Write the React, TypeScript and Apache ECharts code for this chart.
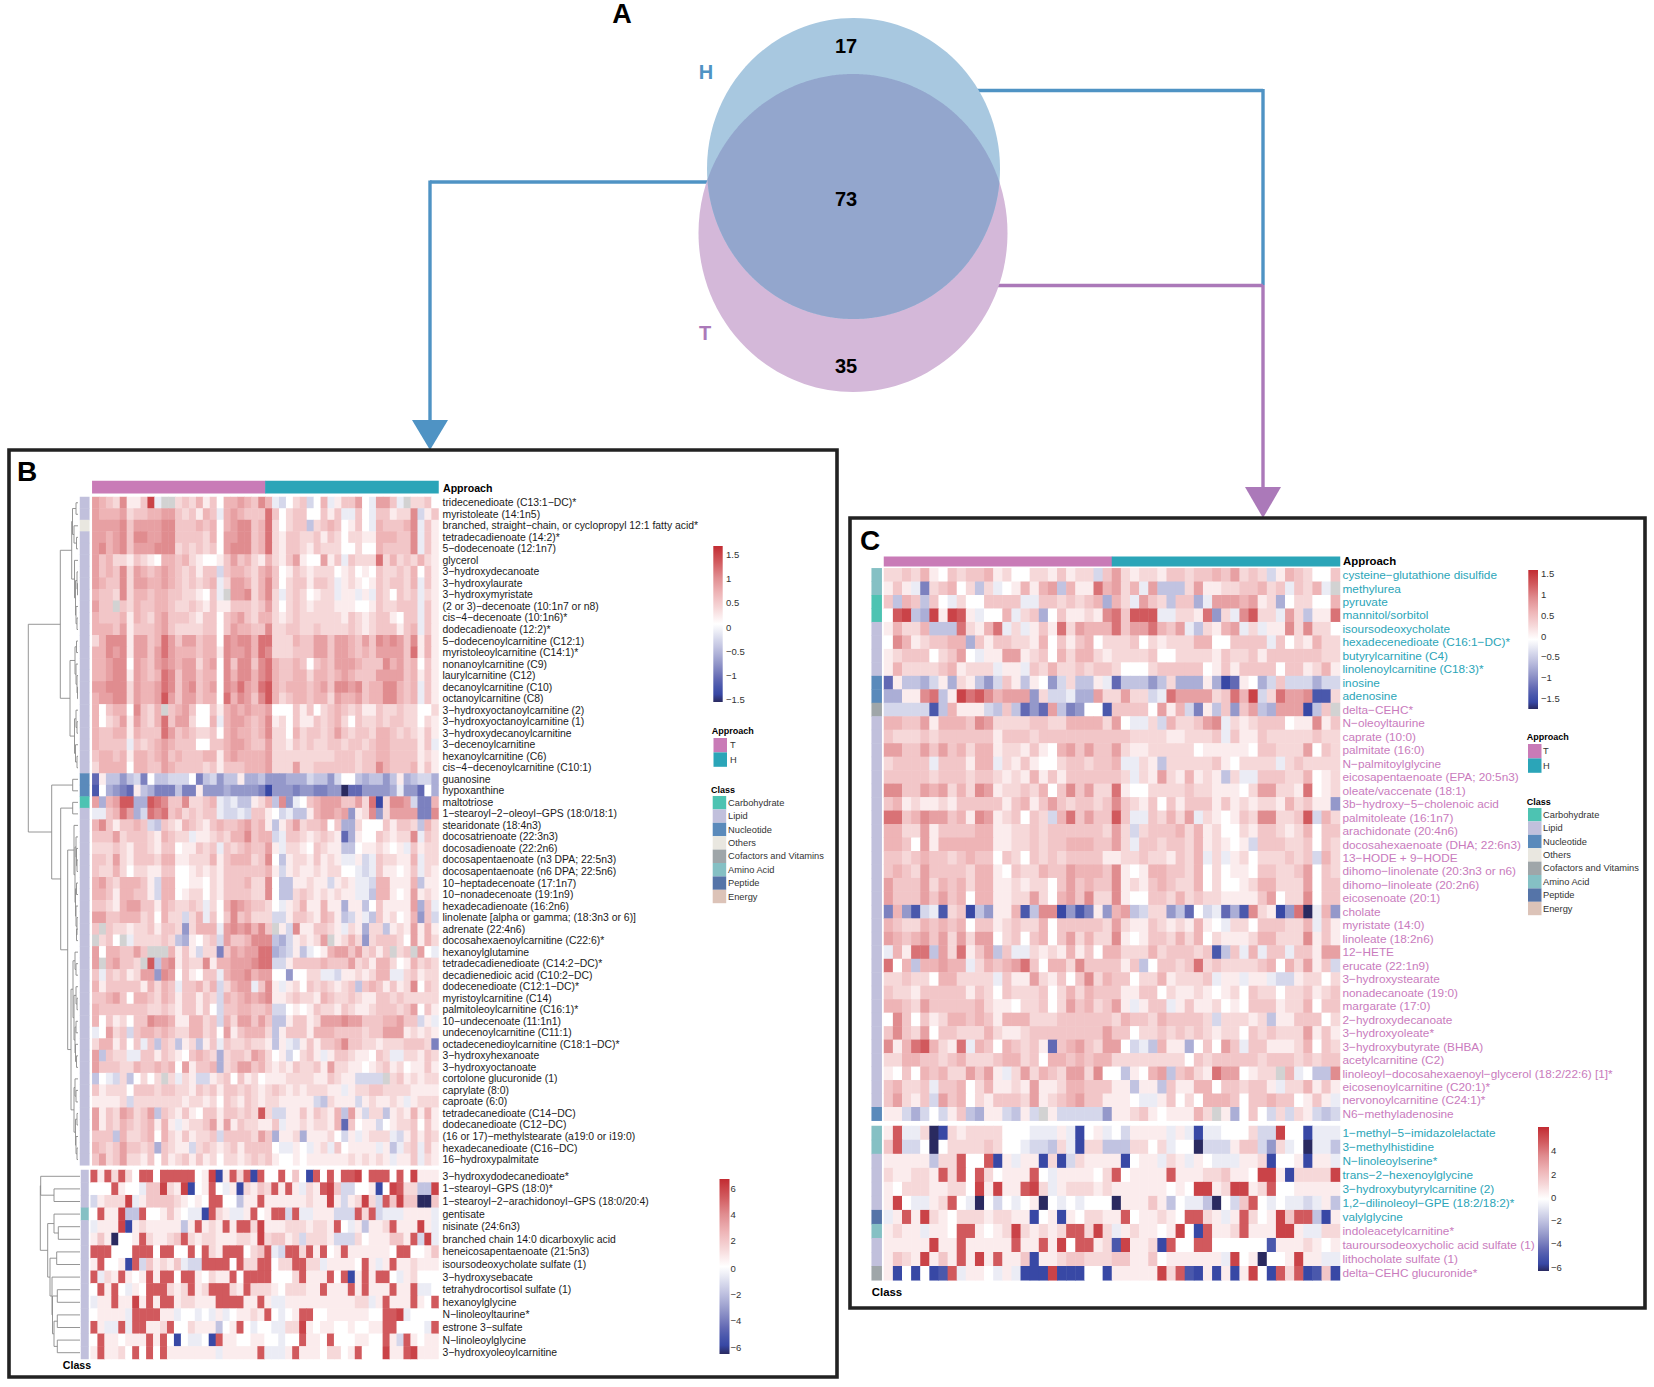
import React, { useEffect, useRef } from "react";
import * as echarts from "echarts";

const FONT = '"Liberation Sans", Arial, sans-serif';
const CLASS_NAMES = ["Carbohydrate", "Lipid", "Nucleotide", "Others", "Cofactors and Vitamins", "Amino Acid", "Peptide", "Energy"];
const CLASS_COLORS = ["#4dc3b2", "#c1c0dc", "#5a8abb", "#e9e7e0", "#9fa6a9", "#85c0c4", "#5574a8", "#dcc3b8"];
const APPROACH = ["T", "H"];
const APPROACH_COLORS = ["#c97bb7", "#2ba5b8"];
const TEAL = "#2ba5b8";
const PINK = "#c97bbd";
const RAMP = ["#2a2a60", "#3848a5", "#4a58ac", "#6269b4", "#7c81bf", "#9498ca", "#abaed6", "#c1c3e1", "#d5d7eb", "#ebecf5", "#ffffff", "#fbeced", "#f6d8d9", "#f2c6c8", "#eeb4b6", "#e7a0a3", "#e08c8f", "#d97276", "#d1595d", "#ca4348", "#c22b32"];

const vennCounts = [17, 73, 35];

const bTopLabels = ["tridecenedioate (C13:1−DC)*", "myristoleate (14:1n5)", "branched, straight−chain, or cyclopropyl 12:1 fatty acid*", "tetradecadienoate (14:2)*", "5−dodecenoate (12:1n7)", "glycerol", "3−hydroxydecanoate", "3−hydroxylaurate", "3−hydroxymyristate", "(2 or 3)−decenoate (10:1n7 or n8)", "cis−4−decenoate (10:1n6)*", "dodecadienoate (12:2)*", "5−dodecenoylcarnitine (C12:1)", "myristoleoylcarnitine (C14:1)*", "nonanoylcarnitine (C9)", "laurylcarnitine (C12)", "decanoylcarnitine (C10)", "octanoylcarnitine (C8)", "3−hydroxyoctanoylcarnitine (2)", "3−hydroxyoctanoylcarnitine (1)", "3−hydroxydecanoylcarnitine", "3−decenoylcarnitine", "hexanoylcarnitine (C6)", "cis−4−decenoylcarnitine (C10:1)", "guanosine", "hypoxanthine", "maltotriose", "1−stearoyl−2−oleoyl−GPS (18:0/18:1)", "stearidonate (18:4n3)", "docosatrienoate (22:3n3)", "docosadienoate (22:2n6)", "docosapentaenoate (n3 DPA; 22:5n3)", "docosapentaenoate (n6 DPA; 22:5n6)", "10−heptadecenoate (17:1n7)", "10−nonadecenoate (19:1n9)", "hexadecadienoate (16:2n6)", "linolenate [alpha or gamma; (18:3n3 or 6)]", "adrenate (22:4n6)", "docosahexaenoylcarnitine (C22:6)*", "hexanoylglutamine", "tetradecadienedioate (C14:2−DC)*", "decadienedioic acid (C10:2−DC)", "dodecenedioate (C12:1−DC)*", "myristoylcarnitine (C14)", "palmitoleoylcarnitine (C16:1)*", "10−undecenoate (11:1n1)", "undecenoylcarnitine (C11:1)", "octadecenedioylcarnitine (C18:1−DC)*", "3−hydroxyhexanoate", "3−hydroxyoctanoate", "cortolone glucuronide (1)", "caprylate (8:0)", "caproate (6:0)", "tetradecanedioate (C14−DC)", "dodecanedioate (C12−DC)", "(16 or 17)−methylstearate (a19:0 or i19:0)", "hexadecanedioate (C16−DC)", "16−hydroxypalmitate"];
const bLowLabels = ["3−hydroxydodecanedioate*", "1−stearoyl−GPS (18:0)*", "1−stearoyl−2−arachidonoyl−GPS (18:0/20:4)", "gentisate", "nisinate (24:6n3)", "branched chain 14:0 dicarboxylic acid", "heneicosapentaenoate (21:5n3)", "isoursodeoxycholate sulfate (1)", "3−hydroxysebacate", "tetrahydrocortisol sulfate (1)", "hexanoylglycine", "N−linoleoyltaurine*", "estrone 3−sulfate", "N−linoleoylglycine", "3−hydroxyoleoylcarnitine"];
const cTopLabels = ["cysteine−glutathione disulfide", "methylurea", "pyruvate", "mannitol/sorbitol", "isoursodeoxycholate", "hexadecenedioate (C16:1−DC)*", "butyrylcarnitine (C4)", "linolenoylcarnitine (C18:3)*", "inosine", "adenosine", "delta−CEHC*", "N−oleoyltaurine", "caprate (10:0)", "palmitate (16:0)", "N−palmitoylglycine", "eicosapentaenoate (EPA; 20:5n3)", "oleate/vaccenate (18:1)", "3b−hydroxy−5−cholenoic acid", "palmitoleate (16:1n7)", "arachidonate (20:4n6)", "docosahexaenoate (DHA; 22:6n3)", "13−HODE + 9−HODE", "dihomo−linolenate (20:3n3 or n6)", "dihomo−linoleate (20:2n6)", "eicosenoate (20:1)", "cholate", "myristate (14:0)", "linoleate (18:2n6)", "12−HETE", "erucate (22:1n9)", "3−hydroxystearate", "nonadecanoate (19:0)", "margarate (17:0)", "2−hydroxydecanoate", "3−hydroxyoleate*", "3−hydroxybutyrate (BHBA)", "acetylcarnitine (C2)", "linoleoyl−docosahexaenoyl−glycerol (18:2/22:6) [1]*", "eicosenoylcarnitine (C20:1)*", "nervonoylcarnitine (C24:1)*", "N6−methyladenosine"];
const cLowLabels = ["1−methyl−5−imidazolelactate", "3−methylhistidine", "N−linoleoylserine*", "trans−2−hexenoylglycine", "3−hydroxybutyrylcarnitine (2)", "1,2−dilinoleoyl−GPE (18:2/18:2)*", "valylglycine", "indoleacetylcarnitine*", "tauroursodeoxycholic acid sulfate (1)", "lithocholate sulfate (1)", "delta−CEHC glucuronide*"];

// Classes per row: index into CLASS_NAMES
const bTopClasses = "11311 11111 11111 11111 11112 20111 11111 11111 11111 11111 11111 111".replace(/ /g, "");
const bLowClasses = "111511111111111";
const cTopClasses = "55001 11122 41111 11111 11111 11111 11111 11111 2".replace(/ /g, "");
const cLowClasses = "55111 16511 4".replace(/ /g, "");

// Each character is a level: 0-9 = up to +0.9 of the scale, a-j = down to -1.0, x = missing
const bTopRows = [
"54326 1139a xx232 41304 45436 4ab02 3b04a 13350 a553a x2230",
"54445 23344 55323 143a4 54333 73023 30031 3aa30 a3312 26b13",
"55556 35555 66333 43404 56634 72023 3c234 30130 a4333 46a31",
"55456 36655 66333 32405 56634 72133 22313 20221 14443 36a31",
"56456 35556 66232 32305 66634 72133 21322 20020 04333 36a31",
"53422 13210 44342 10013 53421 42135 10051 3a322 27242 32421",
"53436 25434 54323 133b3 44324 53013 21222 01201 03223 24031",
"54336 25544 54323 234a2 55424 63023 31332 a1210 13233 24a31",
"43326 24434 43322 103ax 55624 62a23 20122 a11a1 a3203 23a21",
"533x3 24334 43223 21311 33323 52023 21222 11100 13223 33a31",
"43334 14324 53332 13303 45324 42123 22222 21321 23310 33a31",
"44435 13334 53222 23303 54433 62233 22322 22321 23331 34a31",
"24666 15534 75355 34406 56647 72224 33553 55435 36565 36141",
"44656 15535 75444 34416 55647 62223 33553 55434 35555 37141",
"44566 05435 65455 24506 36636 74334 30343 55543 33645 34031",
"44566 15434 76355 34406 46646 74334 42443 45433 35555 34131",
"55666 25445 76356 34506 57547 84344 43453 66563 44664 34a31",
"45566 25445 85355 34407 46536 84234 43442 54453 44664 34a31",
"40344 06324 x3453 00314 54544 50003 13023 43231 13223 22002",
"40235 15324 73552 004a4 55434 61203 11323 42032 23233 22021",
"43344 14333 75343 22304 54434 62204 23323 53233 24432 32131",
"43333 a3234 54333 00334 55433 52213 23223 32332 34433 3313a",
"34434 14434 53433 34414 54444 52222 22222 33323 34433 33121",
"24444 04433 54333 32313 33444 52225 22333 33323 36433 34131",
"g1cce cbf0c cbbb0 fcbec c1ddc eeedd dbcce b00cd ccec1 dcbbd",
"h0def g1cdf ffcff 1eeed eeeef ieeef eeffe ejgge eeeda eeg0d",
"5d458 8dd87 63362 234ab acc12 4c6ea 03455 53352 7i266 5bff4",
"aa347 5db76 73423 233ab bab33 10bac c1455 45e12 6e255 55ff6",
"46313 343bc 32143 21343 34534 1c135 23340 3dd20 00313 32c42",
"33352 33321 4322a 11232 44634 4ba33 21232 1gd10 03212 26a32",
"22232 13321 33011 323a3 23433 51a22 10321 1cc01 12101 a3122",
"33252 13332 44112 22413 44423 60c12 21312 1aa1b a3221 14a22",
"32242 02211 33001 21213 33333 41b12 11212 200ab a3110 13a21",
"45324 4431b 44001 10213 33422 60cc1 1211b 121aa b4411 14c11",
"44314 4331b 44012 20213 33322 60cc2 32121 211aa c4410 15121",
"33214 55331 43223 2a204 65433 20a12 41141 1d11c 03111 15d3a",
"55334 44230 422b2 4a303 63422 2bb13 32143 1cb1a c3120 14e3b",
"3x322 12231 332e2 444a5 65646 3x1b6 11332 1a21d 22c12 15141",
"x230x a2222 32cd1 023b5 33466 6cdb1 2125x 1242e 23332 05142",
"50443 353xx x4131 b22f3 54557 7dcb1 ca014 55352 313x2 3x50a",
"5x453 32x8c 56132 26144 55567 7bb13 33343 33523 14420 14232",
"3a323 1255e 65031 033a4 55645 500e0 022aa b1121 244aa 23122",
"41333 33142 43a33 424b2 455a3 61a12 03232 123c3 43131 26032",
"33453 04432 43133 132b4 34545 61123 22143 22321 13323 22222",
"43333 33322 32133 130b3 34433 4bb01 01322 13211 23332 35031",
"40312 03365 54114 423b4 25535 3cc13 31255 56553 33445 33b1a",
"a0523 b3443 43224 42305 13444 2c133 31444 33332 33555 12121",
"24413 03a3c 32c12 c13a3 22322 1c1ab 13133 46332 21222 3332f",
"5c322 aa331 32103 432d2 33254 201b0 231a1 33211 032aa 22132",
"53332 24334 34051 334d2 35534 21213 22315 22110 12312 01131",
"c0ab2 c0202 x2a21 bb123 03120 11122 22113 211bb bbx23 12122",
"31222 03332 33221 32313 32321 23212 12221 1a122 33222 21111",
"11112 b2222 22212 21203 21321 22111 11bc2 111b1 21121 a1222",
"51325 4235c 32131 03313 32328 2bb11 31321 4c51b 22c12 14141",
"51324 32341 41a12 23515 13221 13a11 21221 4g301 1b012 23031",
"333c4 22340 42131 223b3 33325 3d112 d1112 0b1a1 222ab 13132",
"43235 3323d 3211b 23212 31333 30aa1 0a12a 30111 1a1ca 23a31",
"35235 22130 31231 31202 21232 31001 01111 11212 121a1 13a21"];

const bLowRows = [
"81828 20880 88888 019i1 828i8 00803 0i808 08890 88808 09111",
"00081 00a33 9219i 0180a 1i213 28181 a2189 3bb00 1i098 22cc9",
"b1222 9a133 33210 10880 0c118 11111 12119 1b129 2b839 33jj3",
"08119 cc800 1310a ai821 aa180 188b8 aa111 bbb82 8baaa 1111a",
"a1119 i1211 111c1 81218 18829 11122 21221 80a1c 11281 1191a",
"131j0 01821 12382 12211 12219 23312 b2221 bbb20 11133 18b9a",
"88800 08880 88008 08218 88023 8ab88 28180 18111 11108 80013",
"18001 i8b31 213ab b8888 08228 80228 822a1 11108 1a181 12111",
"8a218 10181 88088 10211 80888 80002 81118 08i18 1880a 12000",
"08180 a1088 82128 12888 21822 21022 21181 11818 11181 18aa0",
"a1181 19181 88122 11188 88118 1aa11 11111 11122 a1811 18108",
"01111 a8888 11a00 a0a1a 01121 80a01 88001 11111 00889 a0000",
"81aa8 a8811 28002 111c0 180a0 0aa22 91011 00100 11880 000a8",
"08110 11181 80i0a a0i81 10011 00a00 81108 00011 0081b 81011",
"18112 08080 81111 111a1 11118 aaa18 11102 20180 00911 89111"];

const cTopRows = [
"22324 10323 34120 02213 122b3 52122 13323 34352 32b14 32003",
"131af 23402 c2a01 4145c 41174 524a5 ccc25 11223 3423a 324ax",
"3c43c 30a20 03333 aa332 3234d 42a53 2c33d a5554 512d0 22004",
"089cd 91981 a004a 23d03 11216 73888 aa221 7e2a6 822a5 2c117",
"14224 ccc72 147a2 a1317 25444 73557 435ac 2145a 2a116 26220",
"06412 3344d 31332 21403 13402 22302 12224 40033 33a30 21422",
"12333 02350 a1155 12304 24421 22223 00222 21322 31333 33322",
"14222 23412 22a11 a3242 23233 20002 33333 01313 33303 31241",
"g1ccd b1d21 ceb31 c10eb 2cc1a gccce c2ddd 1dig1 0db3b bbdbb",
"dd116 7c197 86455 5e2bb add52 2522b a7555 52374 9b275 56hh2",
"bbbbb hc411 1bc3c geg5c fe00h 33330 514bf 1c3e3 5cd55 5ic3x",
"44335 14443 65222 23322 44442 50aa2 b4223 56a21 23330 11613",
"32223 23333 33133 32333 33333 33222 21122 23a31 13222 22322",
"55335 35342 44122 13104 53533 52112 22220 11111 03322 25032",
"23333 a3331 44a21 31002 33233 4aa21 c2222 23102 222a2 32222",
"33333 23332 33212 14131 33333 32a21 52141 21c2a a3332 24012",
"66335 45242 65122 32403 63522 71002 22232 21110 25522 17012",
"34121 12133 33313 41353 23323 63213 03133 31312 12214 2311e",
"77346 55341 65123 032b4 73533 83aa3 2425a 21013 26622 38b42",
"44225 13333 44112 23233 33332 52b23 33424 12002 13321 24033",
"44305 14444 44112 23233 44433 52a33 23324 12101 b3332 23032",
"33234 33234 33032 03232 33331 12232 21324 a2a12 02223 23b42",
"34325 33332 44103 22433 54443 61014 43324 02011 03322 35032",
"53335 24342 44112 12203 53433 61213 43224 02001 24422 25033",
"53335 35340 44112 25204 53622 61003 32423 22111 13502 26033",
"f4ehb ah23i ce114 hc66i ehf1e 45cb2 2ecg0 bagdh 621ie 7ja4e",
"43224 34340 33123 22403 33332 52113 21214 10a22 03332 24a31",
"54345 35252 55023 03403 52422 61013 32424 02111 24422 26131",
"a4177 c5271 35c3a a2121 41304 42224 23332 3hc3a 4a33a 33155",
"704c4 4544a 24345 73044 26333 313c0 33237 23222 23404 2513b",
"22322 04422 22a31 15213 03624 33022 41222 3a11a 11abb 12202",
"32213 33331 32032 22302 42433 31133 02112 10120 32202 23123",
"44325 33333 42110 22302 53423 51a13 3a131 12010 33312 24033",
"06303 12443 43144 42223 33333 24332 43333 2b222 12c11 33302",
"36325 03322 24211 23333 33335 33022 32323 21220 32322 25131",
"61478 4217a 43043 231g3 45325 50bac 411d0 3053a 33111 24032",
"22443 32342 22344 23044 34344 22222 22203 23333 32333 23233",
"10304 34225 351a2 52432 55260 0c104 5c342 17550 122x4 a0cc6",
"34223 a3340 24112 15112 44333 11c11 c3114 40332 331a2 24131",
"35213 b5340 21333 25123 45331 110aa 13020 44430 33433 0131a",
"11bdb 0b13c d11bc 1bx1b bbbbe 11231 01114 2x1d0 30b2b 21bcb"];

const cLowRows = [
"18aa2 ji212 22200 0aaa1 ai01a 0b111 1a1ai aa000 2bb90 0iaaa",
"38bb0 j0222 23200 abbc2 ai22c cc220 2a00j bbb13 3be2a 0jaac",
"11111 c2280 08i1a 11i2i b2111 1i011 a21a1 0aaa1 12i00 1i11a",
"21122 18280 82011 180a1 11102 80111 18111 22311 0991i 22229",
"10222 11220 91911 892a1 22212 11111 10109 91299 12800 11111",
"190aa 1280a j0b0a 01j0a 0a000 j1113 1c0aa cj0b3 80a0a aba1c",
"a1819 21022 21221 1i01i 10221 18011 21088 21a18 20193 88ci1",
"1211a 11088 10129 21212 88292 a1211 0190i 81128 11199 1aa22",
"11111 91181 11118 11819 08812 h9112 i8008 80000 00h11 12101",
"13219 13181 91811 3i112 33222 33113 01111 11a90 1j001 911aa",
"1i0i0 ih8a1 10a1a iii9i ii00i 11111 928hi 1i1i1 90i82 8ih3i"];

const blocks = [
  { rows: bTopRows, labels: bTopLabels, classes: bTopClasses, range: 1.66, left: 92.3, top: 497, width: 346.2, height: 668.3, classLeft: 80, classWidth: 9.3, font: 10.4, margin: 4, colorFrom: -1 },
  { rows: bLowRows, labels: bLowLabels, classes: bLowClasses, range: 6.6, left: 90.7, top: 1170, width: 347.8, height: 189, classLeft: 81, classWidth: 7.5, font: 10.4, margin: 4, colorFrom: -1 },
  { rows: cTopRows, labels: cTopLabels, classes: cTopClasses, range: 1.66, left: 884, top: 568.3, width: 456, height: 552.4, classLeft: 871.7, classWidth: 10, font: 11.8, margin: 2.5, colorFrom: 10 },
  { rows: cLowRows, labels: cLowLabels, classes: cLowClasses, range: 6.2, left: 884, top: 1126, width: 456, height: 154.3, classLeft: 871.7, classWidth: 10, font: 11.8, margin: 2.5, colorFrom: 7 },
];

const colorbars = [
  { x: 713.3, y: 546, w: 9.4, h: 156, ticks: ["1.5", "1", "0.5", "0", "−0.5", "−1", "−1.5"], ys: [554, 578, 602.6, 627, 651, 675, 699], lx: 726 },
  { x: 722, y: 1182, w: 10, h: 175, ticks: ["6", "4", "2", "0", "−2", "−4", "−6"], ys: [1188.5, 1214, 1240.5, 1268, 1294.5, 1320.5, 1347.5], lx: 733 },
  { x: 1528.3, y: 570, w: 9.7, h: 139, ticks: ["1.5", "1", "0.5", "0", "−0.5", "−1", "−1.5"], ys: [573.5, 594, 615, 636, 656, 677, 698], lx: 1541 },
  { x: 1541, y: 1130, w: 11, h: 144, ticks: ["4", "2", "0", "−2", "−4", "−6"], ys: [1150, 1174, 1197.5, 1220.5, 1243.5, 1267.5], lx: 1554 },
];

const legends = [
  { titleX: 711.7, approachY: 731, swX: 713.5, swY: 738, approachLX: 730, classTitleX: 711, classY: 790, classSwX: 712.7, classSwY: 796, classLX: 728 },
  { titleX: 1526.7, approachY: 736.7, swX: 1528, swY: 744, approachLX: 1543, classTitleX: 1526.7, classY: 801.7, classSwX: 1528, classSwY: 808, classLX: 1543 },
];

// Dendrogram of panel B: [branch position, child, child]; a number is a row
const bTopTree = [28.3,
  [60.3,
    [71.7, [72.5, [76, 0, 1], [74, 2, [76.5, 3, 4]]], [74.5, 5, [75.5, [77, 6, [77.5, 7, 8]], [76, 9, [77, 10, 11]]]]],
    [70, [75, [76.5, 12, 13], [76, 14, [77, 15, [77.5, 16, 17]]]], [74.5, [76, 18, [77, 19, 20]], [75.5, 21, [77, 22, 23]]]]],
  [51.7,
    [72.7, 24, 25],
    [60.7, [72.7, 26, 27],
      [67.7,
        [74, 28, [75, [76, 29, [76.5, 30, [77, 31, 32]]], [75.5, [76.5, 33, 34], [76, 35, [77, 36, [76.5, 37, 38]]]]]],
        [71, [73, [75, 39, [76, 40, 41]], [74, [76, 42, [77, 43, 44]], [75, [76, 45, 46], [75.5, 47, [76.5, 48, 49]]]]],
          [74, [75, 50, [76, 51, 52]], [75.5, [77, 53, 54], [76, 55, [77, 56, 57]]]]]]]]];
const bLowTree = [40.3,
  [40.7, 0, [54, 1, 2]],
  [47.7, [54, 3, [58.3, 4, 5]],
    [50, [56.7, 6, 7], [52, 8, [52.5, [57.3, 9, 10], [54, [57.3, 11, 12], [57.3, 13, 14]]]]]]];

const decode = (ch: string) => {
  if (ch >= "0" && ch <= "9") return Number(ch) / 10;
  if (ch === "x") return null;
  const idx = "abcdefghij".indexOf(ch);
  return idx >= 0 ? -(idx + 1) / 10 : 0;
};

function dendro(node: any, rowH: number, top: number, leafX: number, out: any[]): { x: number; y: number } {
  if (typeof node === "number") return { x: leafX, y: top + (node + 0.5) * rowH };
  const a = dendro(node[1], rowH, top, leafX, out);
  const b = dendro(node[2], rowH, top, leafX, out);
  out.push({
    type: "polyline", silent: true,
    shape: { points: [[a.x, a.y], [node[0], a.y], [node[0], b.y], [b.x, b.y]] },
    style: { stroke: "#8a8a8a", fill: "none", lineWidth: 0.9 },
  });
  return { x: node[0], y: (a.y + b.y) / 2 };
}

const txt = (text: string, x: number, y: number, size: number, opts: any = {}) => ({
  type: "text", x, y, silent: true,
  style: { text, font: `${opts.weight || "normal"} ${size}px ${FONT}`, fill: opts.fill || "#1a1a1a", align: opts.align || "left", verticalAlign: "middle" },
});

function buildOption() {
  const grid: any[] = [], xAxis: any[] = [], yAxis: any[] = [], series: any[] = [], visualMap: any[] = [], graphic: any[] = [];
  const addGrid = (g: any, xs: string[], ys: string[], yOpt: any = {}) => {
    const i = grid.length;
    grid.push({ ...g, show: false, containLabel: false });
    xAxis.push({ type: "category", gridIndex: i, data: xs, show: false });
    yAxis.push({ type: "category", gridIndex: i, data: ys, inverse: true, show: false, ...yOpt });
    return i;
  };
  const columns = Array.from({ length: 50 }, (_, k) => "S" + (k + 1));
  const categorical = (seriesIndex: number, colors: string[]) => ({
    type: "piecewise", show: false, seriesIndex, dimension: 2,
    pieces: colors.map((color, value) => ({ value, color })),
  });

  blocks.forEach((b, bi) => {
    const isC = bi >= 2;
    const labelColor = (_: any, idx: number) => {
      if (!isC) return "#1a1a1a";
      return idx >= b.colorFrom ? PINK : TEAL;
    };
    const g = addGrid({ left: b.left, top: b.top, width: b.width, height: b.height }, columns, b.labels, {
      show: true, position: "right",
      axisLine: { show: false }, axisTick: { show: false }, splitLine: { show: false },
      axisLabel: { interval: 0, margin: b.margin, fontSize: b.font, fontFamily: FONT, color: labelColor, hideOverlap: false },
    });
    const data: any[] = [];
    b.rows.forEach((raw, r) => {
      const row = raw.replace(/\s/g, "");
      for (let c = 0; c < 50; c++) {
        const v = decode(row[c] || "0");
        data.push([c, r, v === null ? 99 : Math.round(v * b.range * 1000) / 1000]);
      }
    });
    const si = series.length;
    series.push({ type: "heatmap", xAxisIndex: g, yAxisIndex: g, data, progressive: 0, itemStyle: { borderWidth: 0 }, emphasis: { disabled: true } });
    visualMap.push({ type: "continuous", show: false, seriesIndex: si, min: -b.range, max: b.range, range: [-b.range, b.range * 0.999], dimension: 2, inRange: { color: RAMP }, outOfRange: { color: "#d2d2d2" } });

    const cg = addGrid({ left: b.classLeft, top: b.top, width: b.classWidth, height: b.height }, ["Class"], b.labels);
    const classData = b.labels.map((_, r) => [0, r, Number(b.classes[r])]);
    visualMap.push(categorical(series.length, CLASS_COLORS));
    series.push({ type: "heatmap", xAxisIndex: cg, yAxisIndex: cg, data: classData, itemStyle: { borderWidth: 0 }, emphasis: { disabled: true } });
  });

  // Approach bars: two equal groups of samples
  [{ left: 92.3, top: 481, width: 346.2, height: 12.3 }, { left: 884, top: 556.7, width: 456, height: 9.6 }].forEach((pos) => {
    const ag = addGrid(pos, APPROACH, ["Approach"]);
    const d = APPROACH.map((_, c) => [c, 0, c]);
    visualMap.push(categorical(series.length, APPROACH_COLORS));
    series.push({ type: "heatmap", xAxisIndex: ag, yAxisIndex: ag, data: d, itemStyle: { borderWidth: 0 }, emphasis: { disabled: true } });
  });

  // Connector lines sit under the Venn ellipses
  const BLUE = "#4f93c4", PURPLE = "#ab79b9";
  const seg = (x1: number, y1: number, x2: number, y2: number, c: string) => ({ type: "line", silent: true, shape: { x1, y1, x2, y2 }, style: { stroke: c, lineWidth: 3.4 } });
  graphic.push(seg(960, 90.5, 1263, 90.5, BLUE), seg(1263, 89, 1263, 285, BLUE));
  graphic.push(seg(980, 285.5, 1263, 285.5, PURPLE), seg(1263, 285, 1263, 490, PURPLE));
  graphic.push(seg(730, 182, 430, 182, BLUE), seg(430, 180.5, 430, 425, BLUE));
  graphic.push({ type: "polygon", silent: true, shape: { points: [[412, 420], [448, 420], [430, 450]] }, style: { fill: BLUE } });
  graphic.push({ type: "polygon", silent: true, shape: { points: [[1245, 487], [1281, 487], [1263, 518]] }, style: { fill: PURPLE } });

  // Venn
  const H = { cx: 853.5, cy: 168.5, rx: 146.5, ry: 150.5 };
  const T = { cx: 853, cy: 233, rx: 154.5, ry: 159 };
  const inside = (e: any, x: number, y: number) => ((x - e.cx) / e.rx) ** 2 + ((y - e.cy) / e.ry) ** 2 <= 1;
  const pts: number[][] = [];
  for (let i = 0; i < 720; i++) {
    const a = (i / 720) * 2 * Math.PI;
    const px = H.cx + H.rx * Math.cos(a), py = H.cy + H.ry * Math.sin(a);
    if (inside(T, px, py)) pts.push([px, py]);
    const qx = T.cx + T.rx * Math.cos(a), qy = T.cy + T.ry * Math.sin(a);
    if (inside(H, qx, qy)) pts.push([qx, qy]);
  }
  pts.sort((p, q) => Math.atan2(p[1] - 200, p[0] - 853) - Math.atan2(q[1] - 200, q[0] - 853));
  graphic.push({ type: "ellipse", silent: true, shape: T, style: { fill: "#d4b8d9" } });
  graphic.push({ type: "ellipse", silent: true, shape: H, style: { fill: "#a8c8e0" } });
  graphic.push({ type: "polygon", silent: true, shape: { points: pts }, style: { fill: "#93a6cd" } });
  graphic.push(txt(String(vennCounts[0]), 846, 46, 20, { weight: "bold", align: "center", fill: "#000" }));
  graphic.push(txt(String(vennCounts[1]), 846, 199, 20, { weight: "bold", align: "center", fill: "#000" }));
  graphic.push(txt(String(vennCounts[2]), 846, 366, 20, { weight: "bold", align: "center", fill: "#000" }));
  graphic.push(txt("H", 706, 72, 20, { weight: "bold", align: "center", fill: BLUE }));
  graphic.push(txt("T", 705, 333, 20, { weight: "bold", align: "center", fill: PURPLE }));
  graphic.push(txt("A", 622, 14, 27, { weight: "bold", align: "center", fill: "#000" }));
  graphic.push(txt("B", 27, 471, 28, { weight: "bold", align: "center", fill: "#000" }));
  graphic.push(txt("C", 870, 540, 28, { weight: "bold", align: "center", fill: "#000" }));

  // Panel boxes
  graphic.push({ type: "rect", silent: true, shape: { x: 9, y: 450, width: 828, height: 927 }, style: { fill: "none", stroke: "#222", lineWidth: 3.6 } });
  graphic.push({ type: "rect", silent: true, shape: { x: 850, y: 518, width: 795, height: 790 }, style: { fill: "none", stroke: "#222", lineWidth: 3.6 } });

  dendro(bTopTree, blocks[0].height / 58, blocks[0].top, 78, graphic);
  dendro(bLowTree, blocks[1].height / 15, blocks[1].top, 80, graphic);

  graphic.push(txt("Approach", 443, 488, 10.6, { weight: "bold", fill: "#000" }));
  graphic.push(txt("Approach", 1343, 561, 11.4, { weight: "bold", fill: "#000" }));
  graphic.push(txt("Class", 77, 1365, 10.6, { weight: "bold", align: "center", fill: "#000" }));
  graphic.push(txt("Class", 887, 1292, 11.4, { weight: "bold", align: "center", fill: "#000" }));

  const stops = RAMP.map((color, i) => ({ offset: 1 - i / (RAMP.length - 1), color })).reverse();
  colorbars.forEach((cb, i) => {
    const dx = i === 1 ? -2.5 : i === 3 ? -3 : 0;
    const dy = i === 1 ? -3 : i === 3 ? -3 : 0;
    graphic.push({
      type: "rect", silent: true, shape: { x: cb.x + dx, y: cb.y + dy, width: cb.w, height: cb.h },
      style: { fill: new echarts.graphic.LinearGradient(0, 0, 0, 1, stops) },
    });
    cb.ticks.forEach((t, k) => graphic.push(txt(t, cb.lx + dx, cb.ys[k], 9.5, { fill: "#333" })));
  });

  legends.forEach((l) => {
    graphic.push(txt("Approach", l.titleX, l.approachY, 9, { weight: "bold", fill: "#000" }));
    APPROACH.forEach((a, i) => {
      graphic.push({ type: "rect", silent: true, shape: { x: l.swX, y: l.swY + i * 14.4, width: 13.5, height: 14.4 }, style: { fill: APPROACH_COLORS[i] } });
      graphic.push(txt(a, l.approachLX, l.swY + 7.2 + i * 14.4, 9.3, { fill: "#333" }));
    });
    graphic.push(txt("Class", l.classTitleX, l.classY, 9, { weight: "bold", fill: "#000" }));
    CLASS_NAMES.forEach((c, i) => {
      graphic.push({ type: "rect", silent: true, shape: { x: l.classSwX, y: l.classSwY + i * 13.4, width: 13.5, height: 13.4 }, style: { fill: CLASS_COLORS[i] } });
      graphic.push(txt(c, l.classLX, l.classSwY + 6.7 + i * 13.4, 9.3, { fill: "#333" }));
    });
  });

  return { animation: false, backgroundColor: "#fff", tooltip: { show: false }, grid, xAxis, yAxis, series, visualMap, graphic };
}

export default function App() {
  const ref = useRef<HTMLDivElement>(null);
  useEffect(() => {
    document.body.style.margin = "0";
    const chart = echarts.init(ref.current!, undefined, { renderer: "svg" });
    chart.setOption(buildOption() as any);
    return () => chart.dispose();
  }, []);
  return <div ref={ref} style={{ width: 1654, height: 1387, background: "#fff" }} />;
}
